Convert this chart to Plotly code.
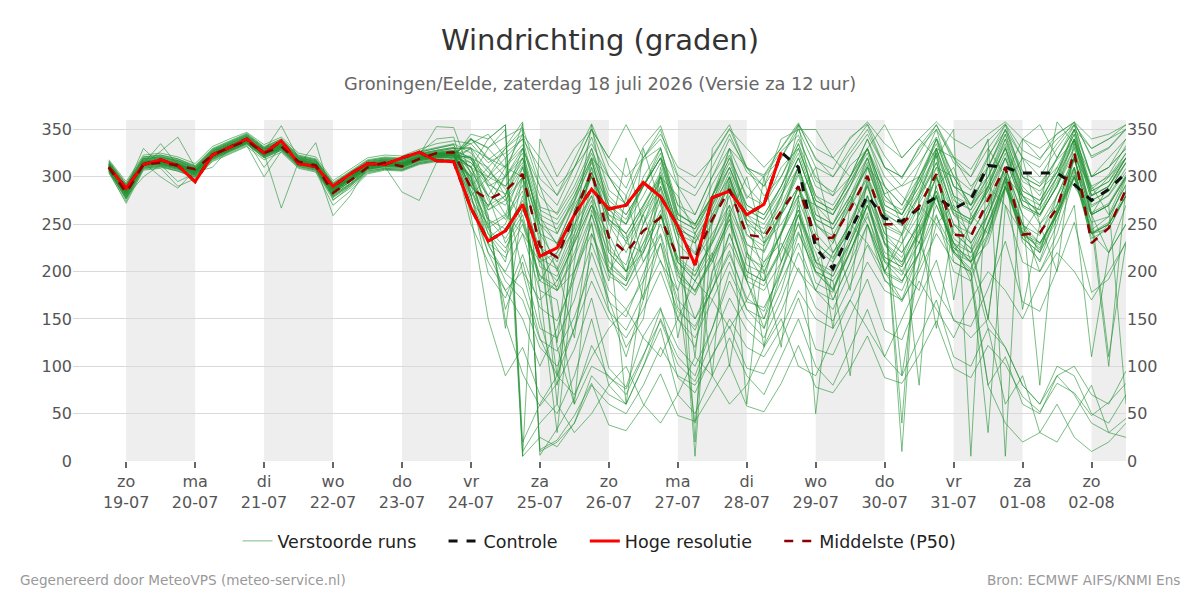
import pandas as pd
import plotly.graph_objects as go

# ---------------- data ----------------
start_time = "2026-07-18 18:00"
n_steps = 60  # 6-hourly steps

hres = [310, 288, 313, 318, 312, 295, 323, 331, 340, 325, 338, 314, 311, 290, 303, 314, 313, 320, 326, 317,
        316, 267, 232, 243, 271, 216, 225, 260, 287, 266, 270, 294, 279, 248, 207, 278, 285, 260, 271, 326]

control = hres + [310, 225, 203, 243, 280, 256, 253, 267, 279, 266, 276, 312, 310, 304, 304, 304, 292, 275, 287, 304]

p50 = [310, 283, 313, 315, 312, 308, 323, 331, 338, 325, 332, 316, 312, 283, 296, 310, 315, 311, 319, 325, 326,
       288, 276, 285, 303, 227, 215, 259, 306, 236, 220, 243, 257, 215, 214, 255, 287, 239, 236, 264, 290,
       234, 236, 266, 301, 250, 250, 269, 303, 239, 237, 276, 310, 239, 241, 267, 326, 230, 246, 287]

members_early = [
    "311 283 316 318 313 306 325 333 340 326 334 318 313 288 300 312 315 314 321 325 326",
    "308 279 300 313 309 303 320 329 337 322 330 314 309 282 295 309 312 311 318 321 322",
    "314 289 318 320 316 309 327 335 343 329 337 320 316 290 302 315 318 317 324 327 330",
    "306 276 309 311 306 300 318 327 335 320 328 311 307 279 292 306 309 308 315 318 318",
    "316 292 321 323 319 311 329 337 345 331 340 322 318 293 305 317 320 319 326 330 334",
    "309 282 313 327 342 310 322 330 338 324 332 315 311 284 297 310 313 312 319 322 323",
    "312 286 315 317 312 306 324 332 339 325 267 316 312 286 298 311 314 313 320 323 324",
    "307 280 312 314 310 305 321 328 336 323 330 312 336 275 290 308 311 284 275 315 320",
    "313 288 330 312 295 304 326 334 341 327 354 319 314 289 301 313 317 315 323 353 352",
    "310 284 314 316 312 305 323 331 339 325 333 316 312 286 298 311 314 313 320 323 324",
    "305 272 307 309 290 298 316 324 332 318 326 309 305 270 285 303 307 306 313 316 316",
    "318 295 323 325 321 314 332 340 347 334 342 325 321 296 308 320 323 322 329 335 338",
    "311 285 315 300 288 307 324 332 340 326 334 317 313 287 299 312 315 314 321 324 325",
    "309 283 313 315 311 304 322 330 338 310 332 315 311 285 297 310 313 312 319 322 323",
    "312 287 317 319 315 308 326 334 342 328 336 319 315 289 301 314 317 316 323 326 328",
    "308 281 312 314 310 303 321 329 337 323 331 314 310 283 295 309 312 311 318 321 321",
    "314 290 319 321 317 310 328 336 344 330 338 321 317 292 304 316 319 318 325 340 342",
    "306 278 310 312 308 301 319 327 335 321 329 312 308 280 292 307 310 309 316 319 318",
    "311 284 314 335 312 306 323 331 339 325 333 316 312 286 298 311 314 313 320 323 324",
    "310 283 313 316 312 305 310 330 338 324 332 315 311 285 297 310 313 312 319 322 323",
    "313 288 316 318 314 307 325 333 341 327 335 318 314 288 300 313 316 315 322 325 327",
    "307 279 311 320 309 302 320 328 336 330 330 313 309 281 293 308 311 310 317 320 320",
    "315 291 319 321 317 309 327 335 343 329 337 320 316 291 303 315 318 317 324 328 331",
    "309 282 312 314 310 304 322 329 337 323 331 314 310 284 296 309 312 311 318 321 322",
    "312 286 316 318 314 307 324 332 340 326 334 317 313 287 299 312 315 314 321 324 325",
    "304 274 308 310 306 299 317 325 333 300 327 310 306 276 288 304 308 307 314 317 316",
    "317 293 321 323 319 312 330 338 346 332 340 323 319 294 306 318 321 320 327 331 335",
    "310 285 314 316 312 305 323 331 339 325 333 316 312 259 280 311 314 313 320 323 324",
    "311 284 315 317 313 306 324 332 340 326 334 317 313 287 299 312 315 314 321 324 325",
    "309 282 313 315 311 304 322 330 338 324 332 315 311 285 297 310 313 312 319 322 323",
    "313 287 317 319 315 308 326 334 342 328 336 319 315 289 301 314 317 316 323 326 328",
    "308 281 311 313 309 302 320 328 336 322 330 313 309 283 295 308 311 310 317 320 321",
    "312 286 315 317 313 306 324 332 340 326 334 317 313 287 299 312 315 314 321 324 325",
    "306 277 310 312 308 301 319 327 335 321 329 312 308 279 291 306 309 308 315 318 317",
    "314 289 318 320 316 309 327 335 343 329 337 320 316 290 302 315 318 317 324 327 330",
    "310 284 314 316 312 305 323 331 339 325 333 316 312 286 298 311 314 313 320 323 324",
    "309 283 313 315 311 304 322 330 338 324 332 315 311 285 297 310 313 312 319 322 323",
    "311 285 315 317 313 306 324 332 340 326 334 317 313 287 299 312 315 314 321 324 325",
    "313 288 316 318 314 307 325 333 341 327 335 318 314 288 300 313 316 315 322 325 327",
    "307 279 311 313 309 302 320 328 336 322 330 313 309 281 293 308 311 310 317 320 320",
    "312 286 315 317 313 306 324 332 340 326 334 317 313 287 299 312 315 314 321 324 325",
    "308 281 312 314 310 303 321 329 337 323 331 314 310 283 295 309 312 311 318 321 321",
    "315 290 319 321 317 310 328 336 344 330 338 321 317 292 304 316 319 318 325 328 331",
    "310 284 314 316 312 305 323 331 339 325 333 316 312 286 298 311 314 313 320 323 324",
    "309 283 313 315 311 304 322 330 338 324 332 315 311 285 297 310 313 312 319 322 323",
    "311 285 315 317 313 306 324 332 340 326 334 317 313 287 299 312 315 314 321 324 325",
    "306 277 309 311 307 300 318 326 334 320 328 311 307 278 290 305 308 307 314 317 316",
    "316 292 320 322 318 311 329 337 345 331 339 322 318 293 305 317 320 319 326 330 334",
    "310 284 314 316 312 305 323 331 339 325 333 316 312 286 298 311 314 313 320 323 324",
    "312 287 316 318 314 307 325 333 341 327 335 318 314 288 300 313 316 315 322 325 327",
]

members_late = [
    "318 296 312 334 268 262 298 342 286 271 318 331 262 248 292 323 277 301 327 344 296 284 312 329 282 291 314 342 301 286 322 349 306 293 318 338 287 302 333",
    "298 246 258 291 214 203 248 301 223 207 262 287 213 196 232 288 238 227 263 302 251 233 268 298 247 238 272 303 242 224 266 311 249 238 281 322 244 258 291",
    "331 308 287 252 196 184 232 288 211 192 238 282 203 178 218 262 207 198 243 288 232 213 254 292 228 207 243 281 219 201 252 298 231 212 263 308 241 252 298",
    "311 268 302 356 6 34 66 122 88 76 112 148 102 84 128 172 138 122 158 204 162 148 186 228 192 168 206 258 222 196 236 288 242 223 264 318 268 281 309",
    "292 228 198 182 128 116 152 204 158 138 176 212 158 142 182 218 172 158 202 242 198 182 222 258 212 196 238 278 221 203 252 298 238 228 262 302 252 258 292",
    "339 331 342 352 298 281 318 356 312 288 332 354 302 288 322 351 309 302 331 357 318 308 342 356 322 298 332 355 321 308 338 356 328 318 346 357 322 331 351",
    "282 198 172 218 162 148 192 252 168 152 198 238 162 138 182 222 168 162 198 252 188 178 222 262 198 188 232 180 150 130 150 120 80 60 90 70 40 30 45",
    "322 292 282 312 258 228 272 318 252 232 268 302 238 218 252 292 228 222 262 312 248 238 272 312 262 248 282 322 262 252 288 332 268 258 292 332 262 272 302",
    "302 258 148 92 58 82 118 172 98 78 132 162 88 72 112 142 98 92 128 172 118 112 152 192 138 128 172 212 148 142 182 232 168 158 202 252 178 192 232",
    "341 318 332 358 12 22 48 82 38 32 58 92 48 42 72 102 58 52 82 122 78 72 98 132 88 82 112 148 98 88 122 102 68 52 82 72 48 62 82",
    "270 235 250 300 150 80 210 320 240 60 190 290 230 110 270 330 250 200 120 280 310 240 180 300 260 90 210 330 280 230 150 290 320 250 200 340 260 110 230",
    "335 345 320 5 340 300 330 350 320 355 320 340 300 20 330 355 310 290 340 350 350 320 300 330 355 320 340 320 350 5 330 300 340 355 320 350 330 340 355",
    "310 280 230 260 190 220 250 280 200 230 260 210 180 240 270 300 220 190 260 290 210 230 280 250 200 240 300 270 230 210 260 300 250 220 280 310 230 250 280",
    "290 270 300 320 250 200 240 310 270 230 220 300 280 240 210 260 300 230 250 280 270 220 240 310 290 250 230 290 310 260 240 300 280 250 270 320 290 260 300",
    "320 310 280 200 130 90 140 220 170 120 150 260 200 150 180 240 190 140 200 260 220 170 210 280 230 200 180 250 270 210 230 290 250 200 240 300 260 220 250",
    "300 240 220 280 210 190 230 270 240 200 250 290 240 220 260 300 250 230 280 320 270 260 290 330 280 260 290 340 300 270 310 345 300 290 320 350 300 310 330",
    "280 300 330 345 320 290 310 335 300 270 290 320 290 260 300 330 310 280 300 340 300 280 320 345 310 290 300 330 320 290 310 350 320 300 330 355 300 320 340",
    "330 290 260 310 240 230 270 300 260 250 290 320 250 240 280 310 270 260 290 330 280 270 300 340 300 280 260 310 300 270 290 330 290 270 300 340 280 300 320",
    "250 210 180 150 100 140 200 250 160 110 170 230 150 120 200 260 190 150 210 270 210 180 230 280 200 170 220 290 230 190 240 300 240 210 250 320 240 220 270",
    "320 280 310 330 290 240 280 320 270 250 300 330 260 250 280 330 290 270 310 330 280 260 300 340 290 270 310 350 290 280 320 355 300 290 310 345 280 290 320",
    "305 260 140 270 220 90 240 280 235 320 250 280 130 210 240 270 60 230 260 290 250 140 270 300 250 240 80 300 250 240 270 310 160 250 280 320 250 100 290",
    "315 295 275 300 250 230 260 300 260 240 270 300 240 230 260 290 260 250 280 310 260 250 280 310 260 250 280 310 260 250 280 320 270 260 290 330 260 270 300",
    "285 240 210 300 180 170 60 240 190 280 210 240 180 40 200 230 190 300 210 250 200 190 90 250 200 190 220 330 210 200 30 270 210 200 230 270 110 220 250",
    "340 320 300 330 280 260 290 330 280 260 290 320 270 250 280 320 280 270 300 335 290 280 300 330 290 270 300 335 290 280 300 340 295 285 305 345 290 300 325",
    "260 150 90 120 70 50 90 150 80 60 100 140 70 50 90 130 90 70 110 150 100 80 120 160 110 90 130 170 110 100 140 120 80 60 100 90 50 40 70",
    "300 330 350 10 40 60 30 50 80 100 60 40 70 110 90 60 80 120 150 100 90 130 170 140 110 150 190 160 130 170 200 180 150 190 220 200 170 200 230",
    "325 305 290 320 260 250 280 320 300 270 290 330 270 260 300 340 310 300 320 355 320 300 330 355 310 300 330 350 320 300 340 5 340 320 340 355 330 340 350",
    "275 250 260 240 180 30 200 260 210 190 330 270 210 190 220 100 220 200 240 280 50 210 240 290 240 220 250 140 250 230 260 310 260 80 270 320 260 270 60",
    "310 300 320 340 310 280 310 350 320 300 320 345 310 300 320 350 330 310 330 355 330 320 340 358 335 320 340 358 340 330 345 358 340 330 345 358 340 345 355",
    "290 270 280 330 240 210 260 310 220 200 250 300 230 210 250 300 240 220 260 310 250 230 270 320 260 240 280 330 270 250 290 340 280 260 300 350 280 290 320",
    "320 275 255 285 205 195 235 275 195 185 225 265 190 175 215 255 195 185 225 265 205 195 235 275 215 205 245 285 225 210 250 295 235 220 260 305 240 245 280",
    "345 340 355 20 60 90 70 110 140 160 130 110 150 190 170 140 170 210 230 200 180 220 250 230 200 230 270 250 220 250 290 270 240 270 310 290 260 290 320",
    "300 255 235 265 225 215 245 355 255 235 265 295 245 5 255 295 255 235 265 305 255 245 275 315 265 10 275 315 265 255 285 325 275 265 358 335 275 285 315",
    "280 220 180 200 170 190 230 270 230 200 220 260 210 190 230 270 230 210 240 290 240 220 250 290 240 230 260 300 250 230 260 310 260 240 270 320 260 270 300",
    "330 320 310 345 290 270 310 350 300 280 320 350 290 280 310 345 305 290 320 350 310 300 325 350 310 300 325 355 315 300 330 355 320 310 335 358 320 330 350",
    "295 245 225 255 195 180 220 270 205 190 230 275 210 195 235 280 215 205 240 290 225 210 250 295 230 215 255 300 235 220 260 305 240 225 265 310 240 250 285",
    "310 265 280 320 250 240 275 330 270 255 290 325 255 245 280 320 265 255 290 335 275 265 295 330 270 260 295 340 280 265 300 345 285 275 305 350 285 295 325",
    "335 315 325 340 270 120 60 100 90 70 110 160 120 100 140 190 150 130 170 220 180 160 200 250 210 190 220 270 230 210 240 290 250 230 260 310 260 270 300",
    "285 255 245 275 225 205 130 265 220 200 230 260 215 200 230 265 225 120 240 275 230 215 245 280 235 220 250 285 240 225 150 295 245 230 260 300 240 250 280",
    "300 230 190 170 120 100 140 190 150 130 160 200 150 130 170 210 160 150 190 230 180 170 210 250 190 180 220 260 200 190 80 110 60 50 90 100 70 60 95",
    "315 290 300 325 265 255 285 325 275 260 290 320 260 250 280 315 270 260 290 325 275 265 295 325 275 265 295 330 280 270 300 335 285 275 305 340 285 295 320",
    "330 250 160 210 140 130 170 230 180 160 190 230 170 150 190 240 190 180 210 260 200 190 220 270 210 200 230 280 220 210 140 60 90 30 20 50 80 30 25",
    "305 280 270 300 235 125 265 305 255 240 170 310 245 235 265 305 255 245 275 355 260 250 280 320 265 255 285 325 170 260 290 330 275 265 295 340 275 285 315",
    "290 310 330 350 10 20 40 80 60 50 80 120 90 80 110 150 120 110 140 180 150 140 170 210 180 170 200 240 210 200 80 40 20 30 60 25 10 20 40",
    "320 300 290 315 255 245 275 315 265 250 280 315 255 245 275 310 265 255 285 320 270 260 290 320 270 260 290 325 275 265 295 330 280 270 300 335 280 290 315",
    "270 220 200 240 210 220 260 300 250 220 260 300 250 230 270 310 260 240 280 320 270 250 290 330 280 260 300 340 290 270 310 350 300 280 320 355 300 310 340",
    "340 330 310 300 230 180 200 240 200 180 210 250 200 180 210 250 200 190 220 260 210 200 230 270 220 210 240 280 230 220 250 290 240 230 260 300 240 250 280",
    "295 265 275 310 245 60 265 305 255 240 270 305 245 235 90 300 250 240 270 310 255 245 275 310 260 40 280 315 265 255 285 320 270 260 290 325 270 280 305",
    "310 340 355 5 25 15 40 90 70 60 100 150 110 90 140 200 160 140 180 240 200 180 220 270 230 210 250 300 260 240 270 320 280 260 290 340 300 310 330",
    "280 230 215 250 190 180 215 260 200 185 220 260 195 180 215 255 200 190 225 265 210 195 230 270 215 205 240 280 225 215 245 290 235 220 255 300 235 245 280",
]

day_names = ["zo", "ma", "di", "wo", "do", "vr", "za", "zo", "ma", "di", "wo", "do", "vr", "za", "zo"]
day_dates = ["19-07", "20-07", "21-07", "22-07", "23-07", "24-07", "25-07", "26-07",
             "27-07", "28-07", "29-07", "30-07", "31-07", "01-08", "02-08"]
tick_days = ["2026-07-19", "2026-07-20", "2026-07-21", "2026-07-22", "2026-07-23", "2026-07-24", "2026-07-25",
             "2026-07-26", "2026-07-27", "2026-07-28", "2026-07-29", "2026-07-30", "2026-07-31", "2026-08-01",
             "2026-08-02"]
shaded_days = ["2026-07-19", "2026-07-21", "2026-07-23", "2026-07-25", "2026-07-27", "2026-07-29",
               "2026-07-31", "2026-08-02"]

# ---------------- build ----------------
times = pd.date_range(start_time, periods=n_steps, freq="6h")

members = []
bad = []
for k, (a, b) in enumerate(zip(members_early, members_late)):
    vals = [int(v) for v in a.split()] + [int(v) for v in b.split()]
    if len(vals) != n_steps:
        bad.append((k, len(a.split()), len(b.split())))
    members.append(vals)
if bad:
    raise ValueError(f"bad member lengths: {bad}")

fig = go.Figure()

pad = "\u00a0" * 4
green = "rgba(34,145,50,0.6)"
for k, vals in enumerate(members):
    fig.add_trace(go.Scatter(
        x=times, y=vals, mode="lines",
        line=dict(color=green, width=1),
        name="Verstoorde runs" + pad, legendgroup="ens",
        showlegend=(k == 0), hoverinfo="skip",
    ))

fig.add_trace(go.Scatter(x=times[:len(control)], y=control, mode="lines", name="Controle" + pad,
                         line=dict(color="#111111", width=3, dash="dash")))
fig.add_trace(go.Scatter(x=times[:len(hres)], y=hres, mode="lines", name="Hoge resolutie" + pad,
                         line=dict(color="#ff0000", width=3)))
fig.add_trace(go.Scatter(x=times[:len(p50)], y=p50, mode="lines", name="Middelste (P50)",
                         line=dict(color="#8b0000", width=2.5, dash="dash")))
# invisible trace to activate the mirrored right axis
fig.add_trace(go.Scatter(x=times[:len(p50)], y=p50, mode="lines", yaxis="y2",
                         line=dict(width=0), opacity=0, showlegend=False, hoverinfo="skip"))

shapes = []
for d in shaded_days:
    d0 = pd.Timestamp(d)
    shapes.append(dict(type="rect", xref="x", yref="paper", x0=d0, x1=d0 + pd.Timedelta(days=1),
                       y0=0, y1=1, fillcolor="#eeeeee", line=dict(width=0), layer="below"))

ticktext = [f"{n}<br>{d}" for n, d in zip(day_names, day_dates)]

L, R, T, B = 73, 74, 120, 139
plot_w = 1200 - L - R
plot_h = 600 - T - B

fig.update_layout(
    width=1200, height=600,
    margin=dict(l=L, r=R, t=T, b=B),
    paper_bgcolor="white", plot_bgcolor="white",
    font=dict(family="DejaVu Sans", color="#555555", size=16),
    title=dict(text="Windrichting (graden)", x=0.5, xanchor="center", y=1 - 40 / 600, yanchor="middle",
               yref="container", font=dict(size=29, color="#333333")),
    showlegend=True,
    legend=dict(orientation="h", x=0.5, xanchor="center", y=-(541 - 461) / plot_h, yanchor="middle",
                font=dict(size=17.5, color="#222222"), itemwidth=30, bgcolor="rgba(0,0,0,0)"),
    shapes=shapes,
    xaxis=dict(
        type="date",
        range=[pd.Timestamp("2026-07-18 05:30"), pd.Timestamp("2026-08-02 12:00")],
        tickmode="array", tickvals=[pd.Timestamp(t) for t in tick_days], ticktext=ticktext,
        ticks="outside", ticklen=6, tickwidth=2, tickcolor="#666666",
        showgrid=False, zeroline=False, showline=False,
        tickfont=dict(size=16, color="#555555"),
    ),
    yaxis=dict(
        range=[0, 360], tickmode="array", tickvals=[0, 50, 100, 150, 200, 250, 300, 350],
        showgrid=True, gridcolor="#d9d9d9", gridwidth=1, zeroline=False, showline=False,
        tickfont=dict(size=16, color="#555555"), ticks="", fixedrange=True,
    ),
    yaxis2=dict(
        overlaying="y", side="right", matches="y",
        range=[0, 360], tickmode="array", tickvals=[0, 50, 100, 150, 200, 250, 300, 350],
        showgrid=False, zeroline=False, showline=False,
        tickfont=dict(size=16, color="#555555"),
    ),
    annotations=[
        dict(text="Groningen/Eelde, zaterdag 18 juli 2026 (Versie za 12 uur)", xref="paper", yref="paper",
             x=0.5, y=1 + (T - 83) / plot_h, xanchor="center", yanchor="middle", showarrow=False,
             font=dict(size=17.8, color="#666666")),
        dict(text="Gegenereerd door MeteoVPS (meteo-service.nl)", xref="paper", yref="paper",
             x=(18 - L) / plot_w, y=-(580 - 461) / plot_h, xanchor="left", yanchor="middle", showarrow=False,
             font=dict(size=13.6, color="#999999")),
        dict(text="Bron: ECMWF AIFS/KNMI Ens", xref="paper", yref="paper",
             x=(1182 - L) / plot_w, y=-(580 - 461) / plot_h, xanchor="right", yanchor="middle", showarrow=False,
             font=dict(size=13.6, color="#999999")),
    ],
)

fig.write_html("out.html")
